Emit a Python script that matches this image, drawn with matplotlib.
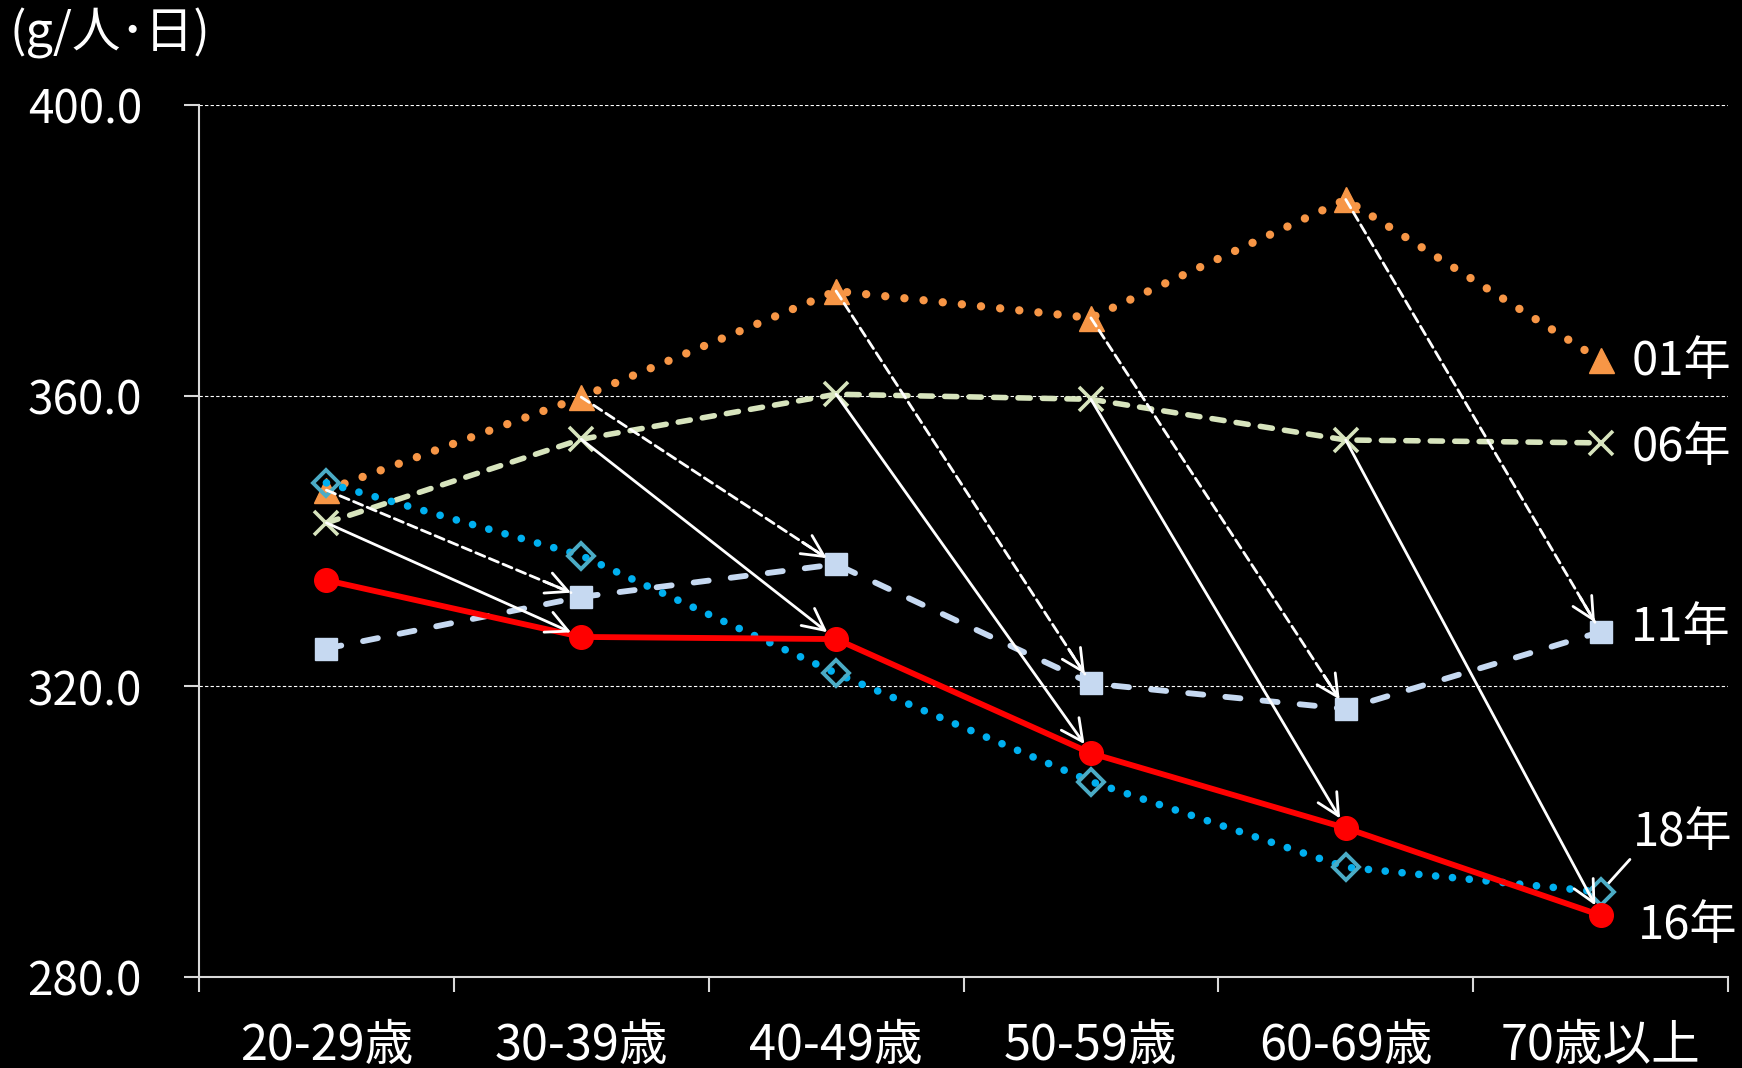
import matplotlib
matplotlib.use('Agg')
import matplotlib.pyplot as plt
import numpy as np

plt.rcParams['font.family'] = ['Noto Sans CJK JP', 'DejaVu Sans']

# 年齢階級別の摂取量 (g/人・日)
age_groups = ['20-29歳', '30-39歳', '40-49歳', '50-59歳', '60-69歳', '70歳以上']
y01 = [347.0, 359.8, 374.4, 370.7, 387.0, 364.9]
y06 = [342.5, 354.0, 360.2, 359.5, 353.9, 353.5]
y11 = [325.2, 332.3, 336.8, 320.4, 316.9, 327.5]
y16 = [334.6, 326.8, 326.5, 310.8, 300.5, 288.5]
y18 = [348.0, 338.0, 321.8, 306.9, 295.1, 291.7]
yticks = [280.0, 320.0, 360.0, 400.0]

W, H = 1742, 1068
fig = plt.figure(figsize=(W / 100, H / 100), dpi=100, facecolor='black')
ax = fig.add_axes([199 / W, 1 - 977 / H, (1728 - 199) / W, (977 - 105) / H])
ax.set_facecolor('black')
ax.set_xlim(-0.5, 5.5)
ax.set_ylim(280, 400)

x = np.arange(len(age_groups))

# grid
for v in yticks[1:]:
    ax.axhline(v, color='white', lw=0.8, linestyle=(0, (3, 2)), zorder=1)

ax.plot(x, y01, color='#F79646', lw=6, linestyle=(0, (0.01, 2.3)),
        dash_capstyle='round', marker='^', ms=18, zorder=3)
ax.plot(x, y06, color='#D7E4BD', lw=4, linestyle=(0, (2.2, 2.2)),
        dash_capstyle='round', marker='x', ms=17, mew=2.6, zorder=3)
ax.plot(x, y11, color='#C6D9F1', lw=4.2, linestyle=(0, (2.6, 3.8)),
        dash_capstyle='round', marker='s', ms=16, zorder=3)
ax.plot(x, y18, color='#00B0F0', lw=5.5, linestyle=(0, (0.01, 2.2)),
        dash_capstyle='round', zorder=3)
ax.plot(x, y18, linestyle='none', marker='D', ms=13, mfc='none',
        mec='#4BACC6', mew=2.8, zorder=4)
ax.plot(x, y16, color='#FF0000', lw=4.2, marker='o', ms=17, zorder=4)


def cohort_arrow(x0, v0, x1, v1, dashed):
    shrink = 8
    head = '->,head_length=0.6,head_width=0.3'
    if not dashed:
        ax.annotate('', xy=(x1, v1), xytext=(x0, v0), zorder=6,
                    arrowprops=dict(arrowstyle=head, color='white', lw=2,
                                    shrinkA=0, shrinkB=shrink, mutation_scale=26))
        return
    ax.annotate('', xy=(x1, v1), xytext=(x0, v0), zorder=6,
                arrowprops=dict(arrowstyle='-', color='white', lw=2,
                                linestyle=(0, (3.5, 1.8)), shrinkA=0, shrinkB=shrink))
    p0 = ax.transData.transform((x0, v0))
    p1 = ax.transData.transform((x1, v1))
    d = (p1 - p0) / np.hypot(*(p1 - p0))
    pb = ax.transData.inverted().transform(p1 - d * 40)
    ax.annotate('', xy=(x1, v1), xytext=pb, zorder=6,
                arrowprops=dict(arrowstyle=head, color='white', lw=2,
                                shrinkA=0, shrinkB=shrink, mutation_scale=26))


# 10年後の同じ世代への矢印
for i in range(5):
    cohort_arrow(x[i], y01[i], x[i + 1], y11[i + 1], dashed=True)
    cohort_arrow(x[i], y06[i], x[i + 1], y16[i + 1], dashed=False)

# 系列ラベル
lab = dict(color='white', fontsize=34, va='center', ha='left')
ax.text(5.12, 364.6, '01年', **lab)
ax.text(5.12, 352.8, '06年', **lab)
ax.text(5.12, 328.1, '11年', **lab)
ax.text(5.145, 287.1, '16年', **lab)
ax.annotate('18年', xy=(x[5], y18[5]), xytext=(5.125, 299.9),
            color='white', fontsize=34, va='center', ha='left',
            arrowprops=dict(arrowstyle='-', color='white', lw=2,
                            relpos=(0, 0), shrinkA=0, shrinkB=7))

# axes
for s in ['top', 'right']:
    ax.spines[s].set_visible(False)
for s in ['left', 'bottom']:
    ax.spines[s].set_color('#D9D9D9')
    ax.spines[s].set_linewidth(1.5)

ax.set_yticks(yticks)
ax.set_yticklabels(['{:.1f}'.format(v) for v in yticks])
ax.tick_params(axis='y', colors='#D9D9D9', labelcolor='white', length=11,
               width=1.5, pad=30, labelsize=33)

ax.set_xticks(np.arange(-0.5, 6, 1))
ax.set_xticklabels([])
ax.set_xticks(x, minor=True)
ax.set_xticklabels(age_groups, minor=True)
ax.tick_params(axis='x', which='major', colors='#D9D9D9', length=11, width=1.5)
ax.tick_params(axis='x', which='minor', length=0, pad=32, labelsize=35,
               labelcolor='white')

fig.text(9 / W, 1 - 33 / H, '(g/人･日)', color='white', fontsize=35,
         va='center', ha='left')

fig.savefig('out.png', dpi=100, facecolor='black')
